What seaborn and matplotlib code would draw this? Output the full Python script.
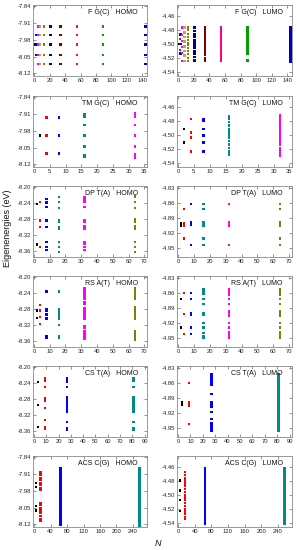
import pandas as pd
import numpy as np
import matplotlib
matplotlib.use('Agg')
import matplotlib.pyplot as plt
import seaborn as sns

# ---- data: chain length N -> eigenenergies (eV) ----

# Fibonacci G(C)
f_n = [1, 2, 3, 5, 8, 13, 21, 34, 55, 89, 144]
f_homo = [
    [-8.0],
    [-7.96, -8.045],
    [-7.96, -8.0, -8.045],
    [-7.925, -7.96, -8.0, -8.045, -8.08],
    [-7.925, -7.96, -8.0, -8.045, -8.08],
    [-7.925, -7.96, -8.0, -8.045, -8.08],
    [-7.925, -7.96, -8.0, -8.045, -8.08],
    [-7.925, -7.96, -8.0, -8.045, -8.08],
    [-7.925, -7.96, -8.0, -8.045, -8.08],
    [-7.925, -7.96, -8.0, -8.045, -8.08],
    [-7.925, -7.96, -8.0, -8.045, -8.08],
]
f_lumo = [
    [-4.4995],
    [-4.492, -4.508],
    [-4.486, -4.4995, -4.513],
    [-4.476, -4.487, -4.495, -4.504, -4.512, -4.524],
    [-4.476, -4.483, -4.49, -4.496, -4.503, -4.509, -4.516, -4.524],
    [-4.475, -4.479, -4.485, -4.49, -4.494, -4.4985, -4.501, -4.505, -4.509, -4.514, -4.519, -4.524],
    [-4.475, -4.477, -4.481, -4.486, -4.49, -4.494, -4.497, -4.4995, -4.502, -4.505, -4.509,
     -4.513, -4.518, -4.522, -4.524],
    [-4.475, -4.477, -4.479, -4.481, -4.483, -4.485, -4.487, -4.489, -4.491, -4.493, -4.496,
     -4.498, -4.5, -4.502, -4.504, -4.507, -4.509, -4.511, -4.513, -4.515, -4.519, -4.522, -4.524],
    [-4.475, -4.477, -4.479, -4.481, -4.483, -4.485, -4.487, -4.489, -4.491, -4.493, -4.495,
     -4.497, -4.499, -4.501, -4.503, -4.505, -4.507, -4.509, -4.511, -4.513, -4.515, -4.517,
     -4.52, -4.522, -4.524],
    [-4.475, -4.477, -4.479, -4.482, -4.484, -4.486, -4.488, -4.491, -4.494, -4.496, -4.498,
     -4.5, -4.502, -4.504, -4.507, -4.51, -4.512, -4.514, -4.522, -4.524],
    [-4.475, -4.477, -4.479, -4.481, -4.483, -4.485, -4.487, -4.489, -4.491, -4.493, -4.495,
     -4.497, -4.499, -4.501, -4.503, -4.505, -4.507, -4.509, -4.511, -4.513, -4.515, -4.517,
     -4.519, -4.521, -4.523, -4.525],
]
f_colors = ['black', 'red', 'blue', '#ff00ff', '#b0b040', '#808000', '#000080',
            '#800000', '#ff0080', '#00a000', '#0000c0']

# Thue-Morse G(C)
tm_n = [2, 4, 8, 16, 32]
tm_homo = [
    [-8.0],
    [-7.925, -8.0, -8.075],
    [-7.925, -8.0, -8.075],
    [-7.91, -7.921, -7.956, -8.0, -8.046, -8.08, -8.09],
    [-7.906, -7.913, -7.921, -7.956, -8.0, -8.046, -8.078, -8.085, -8.092],
]
tm_lumo = [
    [-4.491, -4.51],
    [-4.477, -4.496, -4.503, -4.523],
    [-4.477, -4.479, -4.491, -4.5, -4.51, -4.522, -4.524],
    [-4.472, -4.474, -4.477, -4.481, -4.486, -4.491, -4.493, -4.497, -4.5, -4.504, -4.508,
     -4.513, -4.518, -4.522, -4.524, -4.526, -4.528],
    [-4.471, -4.473, -4.475, -4.477, -4.479, -4.482, -4.485, -4.489, -4.491, -4.493, -4.495,
     -4.497, -4.5, -4.502, -4.504, -4.506, -4.509, -4.511, -4.514, -4.518, -4.521, -4.523,
     -4.525, -4.527, -4.529],
]
tm_colors = ['black', 'red', 'blue', '#008b8b', '#ff00ff']

# Double period T(A)
dp_n = [2, 4, 8, 16, 32, 64]
dp_homo = [
    [-8.243, -8.344],
    [-8.237, -8.284, -8.30, -8.35],
    [-8.23, -8.239, -8.251, -8.284, -8.30, -8.337, -8.35, -8.358],
    [-8.226, -8.237, -8.253, -8.284, -8.288, -8.30, -8.304, -8.337, -8.35, -8.362],
    [-8.225, -8.229, -8.233, -8.237, -8.251, -8.282, -8.285, -8.288, -8.298, -8.301, -8.304,
     -8.337, -8.343, -8.35, -8.358],
    [-8.224, -8.237, -8.253, -8.28, -8.284, -8.288, -8.298, -8.301, -8.304, -8.337, -8.35, -8.362],
]
dp_lumo = [
    [-4.9, -4.903, -4.906],
    [-4.873, -4.9, -4.903, -4.906, -4.932],
    [-4.862, -4.899, -4.902, -4.905, -4.945],
    [-4.862, -4.873, -4.898, -4.9, -4.902, -4.904, -4.906, -4.932, -4.945],
    [-4.862, -4.898, -4.9, -4.902, -4.904, -4.906, -4.945],
    [-4.862, -4.873, -4.898, -4.9, -4.902, -4.904, -4.906, -4.932, -4.945],
]
dp_colors = ['black', 'red', 'blue', '#008b8b', '#ff00ff', '#808000']

# Rudin-Shapiro A(T)
rs_n = [2, 4, 8, 16, 32, 64]
rs_homo = [
    [-8.284, -8.303],
    [-8.27, -8.284, -8.30, -8.317],
    [-8.235, -8.238, -8.28, -8.286, -8.292, -8.296, -8.304, -8.348, -8.351],
    [-8.235, -8.238, -8.28, -8.284, -8.288, -8.292, -8.296, -8.30, -8.304, -8.32, -8.349, -8.352],
    [-8.228, -8.231, -8.234, -8.237, -8.24, -8.244, -8.25, -8.256, -8.262, -8.268, -8.278,
     -8.281, -8.284, -8.287, -8.29, -8.293, -8.296, -8.299, -8.302, -8.305, -8.322, -8.328,
     -8.336, -8.34, -8.343, -8.346, -8.349, -8.352, -8.355],
    [-8.228, -8.231, -8.234, -8.237, -8.24, -8.243, -8.246, -8.25, -8.254, -8.276, -8.279,
     -8.282, -8.285, -8.288, -8.291, -8.294, -8.297, -8.30, -8.303, -8.306, -8.336, -8.339,
     -8.342, -8.345, -8.348, -8.351, -8.354, -8.357],
]
rs_lumo = [
    [-4.872, -4.93],
    [-4.86, -4.902, -4.943],
    [-4.86, -4.872, -4.9, -4.902, -4.905, -4.93, -4.943],
    [-4.853, -4.857, -4.862, -4.872, -4.883, -4.90, -4.902, -4.905, -4.92, -4.93, -4.941,
     -4.947, -4.95],
    [-4.853, -4.857, -4.86, -4.863, -4.872, -4.883, -4.897, -4.899, -4.901, -4.903, -4.905,
     -4.907, -4.92, -4.93, -4.94, -4.943, -4.947, -4.95],
    [-4.853, -4.857, -4.86, -4.863, -4.872, -4.883, -4.897, -4.899, -4.901, -4.903, -4.905,
     -4.907, -4.92, -4.93, -4.94, -4.943, -4.947, -4.95],
]
rs_colors = ['black', 'red', 'blue', '#008b8b', '#ff00ff', '#808000']

# Cantor set T(A)
cs_n = [3, 9, 27, 81]
cs_homo = [
    [-8.2375, -8.295, -8.35],
    [-8.229, -8.232, -8.235, -8.251, -8.278, -8.284, -8.303, -8.333, -8.35, -8.355],
    [-8.229, -8.232, -8.235, -8.238, -8.251, -8.276, -8.279, -8.282, -8.285, -8.288, -8.291,
     -8.294, -8.297, -8.30, -8.303, -8.306, -8.309, -8.312, -8.338, -8.352, -8.355, -8.358],
    [-8.229, -8.232, -8.235, -8.251, -8.276, -8.278, -8.28, -8.282, -8.284, -8.286, -8.288,
     -8.29, -8.292, -8.294, -8.296, -8.298, -8.30, -8.302, -8.304, -8.306, -8.308, -8.31,
     -8.312, -8.338, -8.352, -8.354, -8.356],
]
cs_lumo = [
    [-4.899, -4.901, -4.903, -4.905],
    [-4.86, -4.899, -4.901, -4.903, -4.905, -4.907, -4.943],
    [-4.843, -4.846, -4.849, -4.852, -4.856, -4.86, -4.863, -4.883, -4.898, -4.9, -4.902,
     -4.904, -4.906, -4.908, -4.919, -4.933, -4.941, -4.944, -4.947, -4.95, -4.953, -4.956],
    [-4.843, -4.845, -4.847, -4.849, -4.851, -4.853, -4.855, -4.857, -4.859, -4.861, -4.863,
     -4.866, -4.869, -4.872, -4.875, -4.878, -4.881, -4.884, -4.887, -4.89, -4.893, -4.896,
     -4.898, -4.9, -4.902, -4.904, -4.906, -4.908, -4.911, -4.914, -4.917, -4.92, -4.923,
     -4.926, -4.929, -4.932, -4.935, -4.938, -4.941, -4.943, -4.945, -4.947, -4.949, -4.951,
     -4.953, -4.955, -4.957],
]
cs_colors = ['black', 'red', 'blue', '#008b8b']

# ACS C(G)
acs_n = [4, 16, 64, 256]
acs_homo = [
    [-7.947, -7.964, -8.045, -8.063],
    [-7.903, -7.913, -7.93, -7.937, -7.947, -7.957, -7.968, -7.978, -8.032, -8.041, -8.052,
     -8.062, -8.072, -8.086, -8.097, -8.106],
    [-7.887, -7.891, -7.895, -7.899, -7.903, -7.907, -7.911, -7.915, -7.92, -7.925, -7.93,
     -7.935, -7.94, -7.945, -7.95, -7.955, -7.96, -7.965, -7.97, -7.975, -7.98, -7.99, -8.0,
     -8.01, -8.02, -8.027, -8.033, -8.038, -8.043, -8.048, -8.053, -8.058, -8.063, -8.068,
     -8.073, -8.078, -8.083, -8.088, -8.093, -8.098, -8.103, -8.108, -8.113, -8.118, -8.123],
    [-7.885, -7.89, -7.895, -7.9, -7.905, -7.91, -7.915, -7.92, -7.925, -7.93, -7.935, -7.94,
     -7.945, -7.95, -7.955, -7.96, -7.965, -7.97, -7.975, -7.98, -7.985, -7.99, -7.995, -8.0,
     -8.005, -8.01, -8.015, -8.02, -8.025, -8.03, -8.035, -8.04, -8.045, -8.05, -8.055, -8.06,
     -8.065, -8.07, -8.075, -8.08, -8.085, -8.09, -8.095, -8.1, -8.105, -8.11, -8.115, -8.12,
     -8.125],
]
acs_lumo = [
    [-4.479, -4.493, -4.507, -4.522],
    [-4.467, -4.471, -4.475, -4.479, -4.483, -4.487, -4.491, -4.495, -4.499, -4.503, -4.507,
     -4.511, -4.515, -4.519, -4.523, -4.527, -4.531, -4.534],
    [-4.461, -4.4635, -4.466, -4.4685, -4.471, -4.4735, -4.476, -4.4785, -4.481, -4.4835,
     -4.486, -4.4885, -4.491, -4.4935, -4.496, -4.4985, -4.501, -4.5035, -4.506, -4.5085,
     -4.511, -4.5135, -4.516, -4.5185, -4.521, -4.5235, -4.526, -4.5285, -4.531, -4.5335,
     -4.536, -4.5385, -4.541],
    [-4.461, -4.463, -4.465, -4.467, -4.469, -4.471, -4.473, -4.475, -4.477, -4.479, -4.481,
     -4.483, -4.485, -4.487, -4.489, -4.491, -4.493, -4.495, -4.497, -4.499, -4.501, -4.503,
     -4.505, -4.507, -4.509, -4.511, -4.513, -4.515, -4.517, -4.519, -4.521, -4.523, -4.525,
     -4.527, -4.529, -4.531, -4.533, -4.535, -4.537, -4.539, -4.541],
]
acs_colors = ['black', 'red', 'blue', '#008b8b']

# ---- style ----
sns.set_style('ticks')
plt.rcParams['font.family'] = ['Liberation Sans', 'DejaVu Sans']

fig = plt.figure(figsize=(2.97, 5.5), dpi=100)

HOMO_Y = ((-8.131, -7.836), [-8.12, -8.05, -7.98, -7.91, -7.84])
LUMO_Y = ((-4.545, -4.444), [-4.54, -4.52, -4.50, -4.48, -4.46])
HOMO_Y2 = ((-8.375, -8.198), [-8.36, -8.32, -8.28, -8.24, -8.20])
LUMO_Y2 = ((-4.969, -4.826), [-4.95, -4.92, -4.89, -4.86, -4.83])


def panel(ax, ns, energies, colors, xlim, xticks, ylims, label):
    rows = [(n, e, str(n)) for n, col in zip(ns, energies) for e in col]
    df = pd.DataFrame(rows, columns=['N', 'E', 'gen'])
    pal = dict(zip([str(n) for n in ns], colors))
    sns.scatterplot(data=df, x='N', y='E', hue='gen', palette=pal, marker='s',
                    s=2.7, linewidth=0, legend=False, ax=ax)
    ax.set_xlim(*xlim)
    ax.set_xticks(xticks)
    ax.set_ylim(*ylims[0])
    ax.set_yticks(ylims[1])
    ax.set_yticklabels(['%.2f' % v for v in ylims[1]])
    ax.set_xlabel('')
    ax.set_ylabel('')
    ax.tick_params(direction='in', length=2, width=0.5, labelsize=4.2, pad=1.5,
                   top=True, right=True, color='#666666', labelcolor='#222222')
    for sp in ax.spines.values():
        sp.set_linewidth(0.6)
        sp.set_color('#888888')
    ax.text(0.92, 0.9, label, transform=ax.transAxes, ha='right', va='center',
            fontsize=5, color='#111111')


tops = [5, 96, 186, 276, 366, 456]
H = 71


def make_ax(col, row):
    left = 33 if col == 0 else 177
    w = 114 if col == 0 else 115
    return fig.add_axes([left / 297, 1 - (tops[row] + H) / 550, w / 297, H / 550])


x_f = ((-1.5, 146), list(range(0, 141, 20)))
x_tm = ((-0.3, 35.8), list(range(0, 36, 5)))
x_dp = ((-0.6, 71.7), list(range(0, 71, 10)))
x_cs = ((-0.8, 92), list(range(0, 91, 10)))
x_acs = ((-2.5, 274), list(range(0, 241, 40)))

panel(make_ax(0, 0), f_n, f_homo, f_colors, *x_f, HOMO_Y, 'F G(C)   HOMO')
panel(make_ax(1, 0), f_n, f_lumo, f_colors, *x_f, LUMO_Y, 'F G(C)   LUMO')
panel(make_ax(0, 1), tm_n, tm_homo, tm_colors, *x_tm, HOMO_Y, 'TM G(C)   HOMO')
panel(make_ax(1, 1), tm_n, tm_lumo, tm_colors, *x_tm, LUMO_Y, 'TM G(C)   LUMO')
panel(make_ax(0, 2), dp_n, dp_homo, dp_colors, *x_dp, HOMO_Y2, 'DP T(A)   HOMO')
panel(make_ax(1, 2), dp_n, dp_lumo, dp_colors, *x_dp, LUMO_Y2, 'DP T(A)   LUMO')
panel(make_ax(0, 3), rs_n, rs_homo, rs_colors, *x_dp, HOMO_Y2, 'RS A(T)   HOMO')
panel(make_ax(1, 3), rs_n, rs_lumo, rs_colors, *x_dp, LUMO_Y2, 'RS A(T)   LUMO')
panel(make_ax(0, 4), cs_n, cs_homo, cs_colors, *x_cs, HOMO_Y2, 'CS T(A)   HOMO')
panel(make_ax(1, 4), cs_n, cs_lumo, cs_colors, *x_cs, LUMO_Y2, 'CS T(A)   LUMO')
panel(make_ax(0, 5), acs_n, acs_homo, acs_colors, *x_acs, HOMO_Y, 'ACS C(G)   HOMO')
panel(make_ax(1, 5), acs_n, acs_lumo, acs_colors, *x_acs, LUMO_Y, 'ACS C(G)   LUMO')

fig.text(8 / 297, 1 - 228 / 550, 'Eigenenergies (eV)', rotation=90, ha='center',
         va='center', fontsize=6.5, color='#111111')
fig.text(158 / 297, 1 - 543 / 550, 'N', style='italic', ha='center', va='center',
         fontsize=6.5, color='#111111')

fig.savefig('out.png', dpi=100)
